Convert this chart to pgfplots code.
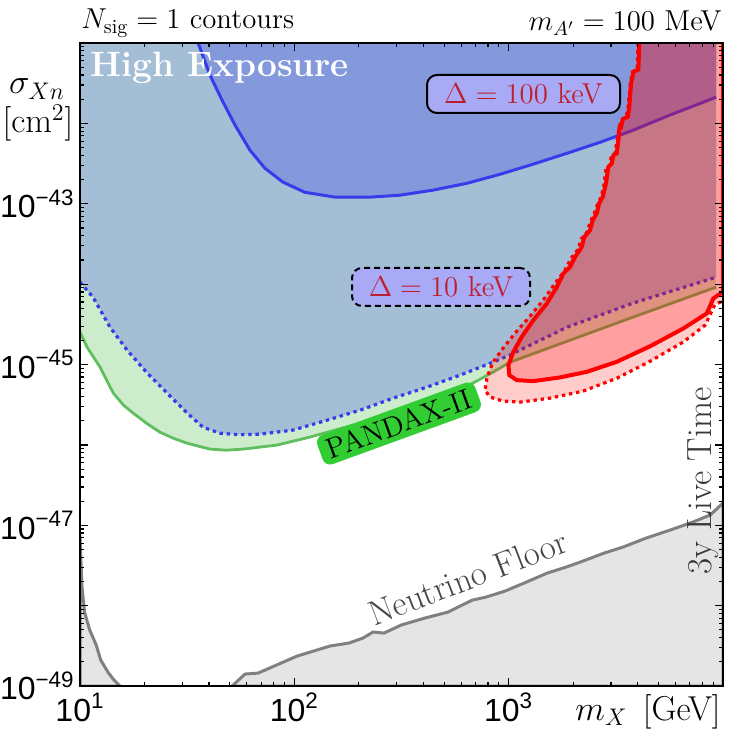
\documentclass[border=0pt]{standalone}
\usepackage{pgfplots}
\pgfplotsset{compat=1.18}
\usepackage{fontspec}
\newfontfamily\arialfont{Liberation Sans}
\definecolor{lightbluefill}{RGB}{164,190,213}
\definecolor{darkbluefill}{RGB}{132,152,220}
\definecolor{blueline}{RGB}{55,60,235}
\definecolor{greenline}{RGB}{95,190,95}
\definecolor{greenfill}{RGB}{204,236,204}
\definecolor{floorgray}{RGB}{128,128,128}
\definecolor{floorfill}{RGB}{229,229,229}
\definecolor{pandax}{RGB}{50,205,50}
\definecolor{lavender}{RGB}{168,170,245}
\definecolor{deltared}{RGB}{190,30,45}
\begin{document}
\begin{tikzpicture}
\begin{axis}[
  at={(0pt,0pt)}, anchor=south west,
  width=321.5pt, height=321.5pt, scale only axis,
  xmode=log, ymode=log,
  xmin=10, xmax=10000, ymin=1e-49, ymax=1e-41,
  axis on top,
  axis line style={line width=1pt},
  tick style={black, line width=0.6pt},
  major tick length=4pt, minor tick length=2pt,
  xtick={10,100,1000,10000},
  xticklabels={{10\textsuperscript{1}},{10\textsuperscript{2}},{10\textsuperscript{3}},{}},
  minor xtick={20,30,40,50,60,70,80,90,200,300,400,500,600,700,800,900,2000,3000,4000,5000,6000,7000,8000,9000},
  ytick={1e-49,1e-48,1e-47,1e-46,1e-45,1e-44,1e-43,1e-42,1e-41},
  yticklabels={{10\textsuperscript{−49}},{},{10\textsuperscript{−47}},{},{10\textsuperscript{−45}},{},{10\textsuperscript{−43}},{},{}},
  minor ytick={2e-49,3e-49,4e-49,5e-49,6e-49,7e-49,8e-49,9e-49,
    2e-48,3e-48,4e-48,5e-48,6e-48,7e-48,8e-48,9e-48,
    2e-47,3e-47,4e-47,5e-47,6e-47,7e-47,8e-47,9e-47,
    2e-46,3e-46,4e-46,5e-46,6e-46,7e-46,8e-46,9e-46,
    2e-45,3e-45,4e-45,5e-45,6e-45,7e-45,8e-45,9e-45,
    2e-44,3e-44,4e-44,5e-44,6e-44,7e-44,8e-44,9e-44,
    2e-43,3e-43,4e-43,5e-43,6e-43,7e-43,8e-43,9e-43,
    2e-42,3e-42,4e-42,5e-42,6e-42,7e-42,8e-42,9e-42},
  tick label style={font=\fontsize{16}{19}\selectfont\arialfont},
  yticklabel style={inner xsep=2.5pt},
]
% PANDAX-II region (green)
\addplot[draw=none, fill=greenfill] coordinates {
(10,2.53e-45) (10.8,1.64e-45) (12.4,9.29e-46) (14.3,4.41e-46) (16.0,3.10e-46) (17.7,2.49e-46) (20.5,1.85e-46) (23.6,1.44e-46) (27.5,1.20e-46) (31.6,1.05e-46) (40.4,8.87e-47) (48.0,8.60e-47) (57.7,8.87e-47) (83.0,9.96e-47) (118,1.25e-46) (203,1.87e-46) (347,2.87e-46) (593,4.81e-46) (845,8.04e-46) (1016,1.07e-45) (1875,1.95e-45) (3802,3.89e-45) (9290,9.18e-45) (9290,1e-41) (10,1e-41)} -- cycle;
\addplot[greenline, line width=1.4pt] coordinates {
(10,2.53e-45) (10.8,1.64e-45) (12.4,9.29e-46) (14.3,4.41e-46) (16.0,3.10e-46) (17.7,2.49e-46) (20.5,1.85e-46) (23.6,1.44e-46) (27.5,1.20e-46) (31.6,1.05e-46) (40.4,8.87e-47) (48.0,8.60e-47) (57.7,8.87e-47) (83.0,9.96e-47) (118,1.25e-46) (203,1.87e-46) (347,2.87e-46) (593,4.81e-46) (845,8.04e-46) (1016,1.07e-45) (1875,1.95e-45) (3802,3.89e-45) (9290,9.18e-45)};
% High exposure, Delta = 10 keV (light blue)
\addplot[draw=none, fill=lightbluefill] coordinates {
(10,1.06e-44) (11.5,6.89e-45) (13.8,2.92e-45) (16.6,1.51e-45) (20.6,7.82e-46) (25.5,4.41e-46) (31.6,2.49e-46) (37.5,1.66e-46) (45.0,1.40e-46) (55.0,1.34e-46) (69.2,1.36e-46) (98.6,1.53e-46) (142,2.03e-46) (203,2.71e-46) (289,3.82e-46) (416,5.24e-46) (593,7.38e-46) (845,1.07e-45) (1016,1.32e-45) (1875,2.92e-45) (3802,5.81e-45) (9290,1.22e-44) (9290,1e-41) (10,1e-41)} -- cycle;
\addplot[blueline, line width=1.6pt, dash pattern=on 1.7pt off 1.9pt] coordinates {
(10,1.06e-44) (11.5,6.89e-45) (13.8,2.92e-45) (16.6,1.51e-45) (20.6,7.82e-46) (25.5,4.41e-46) (31.6,2.49e-46) (37.5,1.66e-46) (45.0,1.40e-46) (55.0,1.34e-46) (69.2,1.36e-46) (98.6,1.53e-46) (142,2.03e-46) (203,2.71e-46) (289,3.82e-46) (416,5.24e-46) (593,7.38e-46) (845,1.07e-45) (1016,1.32e-45) (1875,2.92e-45) (3802,5.81e-45) (9290,1.22e-44)};
% High exposure, Delta = 100 keV (darker blue)
\addplot[draw=none, fill=darkbluefill] coordinates {
(35.6,1e-41) (40.4,3.98e-42) (46.0,1.95e-42) (52.9,9.51e-43) (62.1,4.64e-43) (72.9,2.77e-43) (88.5,1.86e-43) (112,1.39e-43) (155,1.21e-43) (225,1.21e-43) (311,1.28e-43) (444,1.48e-43) (639,1.80e-43) (912,2.33e-43) (1300,3.11e-43) (1875,4.26e-43) (2673,5.83e-43) (3802,8.22e-43) (5483,1.23e-42) (9290,2.12e-42) (9290,1e-41)} -- cycle;
\addplot[blueline, line width=1.5pt] coordinates {
(35.6,1e-41) (40.4,3.98e-42) (46.0,1.95e-42) (52.9,9.51e-43) (62.1,4.64e-43) (72.9,2.77e-43) (88.5,1.86e-43) (112,1.39e-43) (155,1.21e-43) (225,1.21e-43) (311,1.28e-43) (444,1.48e-43) (639,1.80e-43) (912,2.33e-43) (1300,3.11e-43) (1875,4.26e-43) (2673,5.83e-43) (3802,8.22e-43) (5483,1.23e-42) (9290,2.12e-42)};
% Neutrino floor
\addplot[floorgray, line width=1.5pt, fill=floorfill] coordinates {
(51.2,1e-49) (58.9,1.41e-49) (67.8,1.45e-49) (80.4,1.77e-49) (103,2.36e-49) (147,3.15e-49) (180,3.43e-49) (209,3.95e-49) (233,4.70e-49) (262,4.56e-49) (315,5.74e-49) (407,7.02e-49) (521,8.32e-49) (675,1.17e-48) (785,1.28e-48) (962,1.52e-48) (1180,1.91e-48) (1511,2.54e-48) (1853,3.02e-48) (2154,3.48e-48) (2787,4.51e-48) (3417,5.36e-48) (4375,6.93e-48) (5662,8.71e-48) (7249,1.10e-47) (8710,1.34e-47) (10000,1.89e-47) (10000,1e-49)} -- cycle;
\addplot[floorgray, line width=1.5pt, fill=floorfill] coordinates {
(10,7.55e-48) (10.2,1.80e-48) (10.5,8.32e-49) (11.1,4.98e-49) (11.9,3.24e-49) (12.5,2.10e-49) (13.5,1.49e-49) (14.4,1.19e-49) (15.4,1e-49) (10,1e-49)} -- cycle;
% 3y live time, Delta = 10 keV (dotted red)
\addplot[draw=none, fill=red, fill opacity=0.2] coordinates {
(4018,1e-41) (3972,4.72e-42) (3767,4.34e-42) (3690,2.99e-42) (3606,1.59e-42) (3532,1.19e-42) (3342,1.10e-42) (3273,8.71e-43) (3206,6.18e-43) (3133,4.26e-43) (3006,3.80e-43) (2972,3.02e-43) (2844,2.77e-43) (2787,1.75e-43) (2698,1.21e-43) (2588,9.61e-44) (2500,7.43e-44) (2399,5.90e-44) (2320,4.44e-44) (2178,3.63e-44) (2109,2.72e-44) (1954,2.10e-44) (1832,1.49e-44) (1648,1.03e-44) (1449,6.32e-45) (1259,4.00e-45) (1072,2.46e-45) (942,1.60e-45) (845,1.07e-45) (793,6.97e-46) (776,4.81e-46) (818,3.94e-46) (942,3.51e-46) (1131,3.41e-46) (1561,3.82e-46) (2223,4.67e-46) (3206,6.78e-46) (4571,1.10e-45) (6513,1.90e-45) (8253,3.09e-45) (9186,5.64e-45) (10000,6.15e-45) (10000,1e-41)} -- cycle;
% 3y live time, Delta = 100 keV (solid red)
\addplot[draw=none, fill=red, fill opacity=0.22] coordinates {
(4074,1e-41) (4027,4.68e-42) (3819,4.38e-42) (3724,3.13e-42) (3656,1.60e-42) (3597,1.21e-42) (3404,1.13e-42) (3342,8.89e-43) (3289,8.89e-43) (3251,6.18e-43) (3192,4.23e-43) (3083,4.02e-43) (3027,3.17e-43) (2917,2.88e-43) (2844,1.79e-43) (2748,1.22e-43) (2642,1.01e-43) (2576,7.57e-44) (2466,6.25e-44) (2399,4.70e-44) (2254,3.87e-44) (2193,2.91e-44) (2042,2.19e-44) (1935,1.64e-44) (1800,1.36e-44) (1679,9.25e-45) (1507,5.75e-45) (1303,3.56e-45) (1151,2.21e-45) (1052,1.44e-45) (997,9.84e-46) (1007,7.38e-46) (1091,6.40e-46) (1303,6.22e-46) (1738,6.92e-46) (2312,8.11e-46) (3192,1.08e-45) (4571,1.69e-45) (6531,2.81e-45) (8395,4.32e-45) (9016,6.64e-45) (10000,8.02e-45) (10000,1e-41)} -- cycle;
\addplot[red, line width=1.6pt, dash pattern=on 1.7pt off 1.9pt] coordinates {
(4018,1e-41) (3972,4.72e-42) (3767,4.34e-42) (3690,2.99e-42) (3606,1.59e-42) (3532,1.19e-42) (3342,1.10e-42) (3273,8.71e-43) (3206,6.18e-43) (3133,4.26e-43) (3006,3.80e-43) (2972,3.02e-43) (2844,2.77e-43) (2787,1.75e-43) (2698,1.21e-43) (2588,9.61e-44) (2500,7.43e-44) (2399,5.90e-44) (2320,4.44e-44) (2178,3.63e-44) (2109,2.72e-44) (1954,2.10e-44) (1832,1.49e-44) (1648,1.03e-44) (1449,6.32e-45) (1259,4.00e-45) (1072,2.46e-45) (942,1.60e-45) (845,1.07e-45) (793,6.97e-46) (776,4.81e-46) (818,3.94e-46) (942,3.51e-46) (1131,3.41e-46) (1561,3.82e-46) (2223,4.67e-46) (3206,6.78e-46) (4571,1.10e-45) (6513,1.90e-45) (8253,3.09e-45) (9186,5.64e-45) (10000,6.15e-45)};
\addplot[red, line width=2pt] coordinates {
(4074,1e-41) (4027,4.68e-42) (3819,4.38e-42) (3724,3.13e-42) (3656,1.60e-42) (3597,1.21e-42) (3404,1.13e-42) (3342,8.89e-43) (3289,8.89e-43) (3251,6.18e-43) (3192,4.23e-43) (3083,4.02e-43) (3027,3.17e-43) (2917,2.88e-43) (2844,1.79e-43) (2748,1.22e-43) (2642,1.01e-43) (2576,7.57e-44) (2466,6.25e-44) (2399,4.70e-44) (2254,3.87e-44) (2193,2.91e-44) (2042,2.19e-44) (1935,1.64e-44) (1800,1.36e-44) (1679,9.25e-45) (1507,5.75e-45) (1303,3.56e-45) (1151,2.21e-45) (1052,1.44e-45) (997,9.84e-46) (1007,7.38e-46) (1091,6.40e-46) (1303,6.22e-46) (1738,6.92e-46) (2312,8.11e-46) (3192,1.08e-45) (4571,1.69e-45) (6531,2.81e-45) (8395,4.32e-45) (9016,6.64e-45) (10000,8.02e-45) (10000,1e-41)};
\end{axis}
% labels
\node[anchor=base west, inner sep=0pt, font=\fontsize{14.4}{17}\selectfont] at (0.5pt,328.5pt) {$N_{\rm sig} = 1$ contours};
\node[anchor=base east, inner sep=0pt, font=\fontsize{14.4}{17}\selectfont] at (321pt,327.5pt) {$m_{A'} = 100$ MeV};
\node[anchor=base, font=\fontsize{17.28}{20}\selectfont] at (-21.5pt,296pt) {$\sigma_{Xn}$};
\node[anchor=base, font=\fontsize{17.28}{20}\selectfont] at (-21pt,276.5pt) {$[\mathrm{cm}^2]$};
\node[anchor=base east, inner sep=0pt, font=\fontsize{17.28}{20}\selectfont] at (320.5pt,-17pt) {$m_X$\hspace{0.45em}[GeV]};
\node[anchor=base west, inner sep=0pt, text=white, font=\fontsize{17.6}{20}\selectfont\bfseries] at (5pt,304.5pt) {High Exposure};
\node[draw=black, line width=1pt, fill=lavender, rounded corners=5pt, minimum width=96.5pt, minimum height=19pt, inner sep=2pt, text=deltared, font=\fontsize{14.4}{17}\selectfont] at (221.75pt,296pt) {$\Delta = 100$ keV};
\node[draw=black, line width=1pt, dash pattern=on 3pt off 2pt, fill=lavender, rounded corners=5pt, minimum width=89pt, minimum height=19pt, inner sep=2pt, text=deltared, font=\fontsize{14.4}{17}\selectfont] at (180.5pt,199.5pt) {$\Delta = 10$ keV};
\node[fill=pandax, rounded corners=4pt, rotate=20, minimum width=84pt, minimum height=15.5pt, inner sep=1pt, font=\fontsize{14.4}{17}\selectfont] at (159.5pt,131.25pt) {PANDAX-II};
\node[rotate=21, anchor=base, text=black!72, font=\fontsize{17.5}{20}\selectfont] at (196pt,48.5pt) {Neutrino Floor};
\node[rotate=90, anchor=base, text=black!78, font=\fontsize{17.5}{20}\selectfont] at (315.5pt,102.5pt) {3y Live Time};
\pgfresetboundingbox
\useasboundingbox (-40pt,-27pt) rectangle (327pt,343pt);
\end{tikzpicture}
\end{document}
